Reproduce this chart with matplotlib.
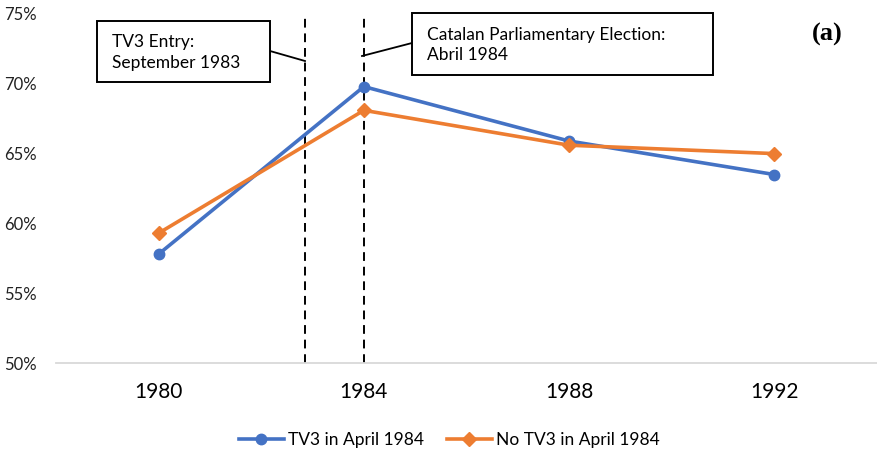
import matplotlib
matplotlib.use("Agg")
import matplotlib.pyplot as plt
from matplotlib.ticker import FuncFormatter

years = ["1980", "1984", "1988", "1992"]
tv3 = [57.8, 69.8, 65.9, 63.5]
no_tv3 = [59.3, 68.1, 65.6, 65.0]
series_names = ["TV3 in April 1984", "No TV3 in April 1984"]
event_pos = [0.715, 1.0]
event_labels = ["TV3 Entry:\nSeptember 1983", "Catalan Parliamentary Election:\nAbril 1984"]

plt.rcParams['font.family'] = ['Lato', 'DejaVu Sans']

fig = plt.figure(figsize=(8.77, 4.57), dpi=100)
ax = fig.add_axes([56/877, 1-363/457, 1-56/877, (363-14)/457])

x = list(range(len(years)))
ax.plot(x, tv3, color="#4472C4", lw=2.6, marker="o", ms=7.5, label=series_names[0], zorder=3)
ax.plot(x, no_tv3, color="#ED7D31", lw=2.6, marker="D", ms=7.5, label=series_names[1], zorder=3)

for p in event_pos:
    ax.axvline(p, color="black", lw=1.4, ls=(0, (4.5, 3)), zorder=2)

ax.set_xlim(-0.5, 3.5)
ax.set_ylim(50, 75)
ax.set_yticks([50, 55, 60, 65, 70, 75])
ax.yaxis.set_major_formatter(FuncFormatter(lambda v, _: f"{v:.0f}%"))
ax.set_xticks(x)
ax.set_xticklabels(years, fontsize=15)
ax.tick_params(axis='y', labelsize=12, length=0, pad=14, labelcolor="#222222")
ax.tick_params(axis='x', length=0, pad=14)
for s in ["top", "right", "left"]:
    ax.spines[s].set_visible(False)
ax.spines["bottom"].set_color("#D9D9D9")
ax.spines["bottom"].set_linewidth(1.3)

# Annotation boxes (pixel geometry)
boxes = [(97, 21, 270, 82, (270, 51), (305, 61)),
         (412, 13, 713, 75, (412, 43), (362, 56))]
for (x0, y0, x1, y1, a, b), lab in zip(boxes, event_labels):
    fig.patches.append(plt.Rectangle((x0/877, 1-y1/457), (x1-x0)/877, (y1-y0)/457,
                                     transform=fig.transFigure, fill=True, fc="white",
                                     ec="black", lw=1.4, zorder=5))
    fig.text((x0+15)/877, 1-((y0+y1)/2 + 1)/457, lab, fontsize=12.5, va="center", ha="left",
             linespacing=1.35, zorder=6)
    fig.add_artist(plt.Line2D([a[0]/877, b[0]/877], [1-a[1]/457, 1-b[1]/457],
                              transform=fig.transFigure, color="black", lw=1.3))

fig.text(827/877, 1-34/457, "(a)", fontsize=19, fontweight="bold",
         family=["Liberation Serif"], ha="center", va="center")

ax.legend(loc="center", bbox_to_anchor=((449.5 - 56)/821, -(440-363)/349), ncol=2, frameon=False,
          fontsize=12.5, handlelength=2.6, handletextpad=0.25, columnspacing=1.3,
          bbox_transform=ax.transAxes)

fig.savefig("out.png", dpi=100)
